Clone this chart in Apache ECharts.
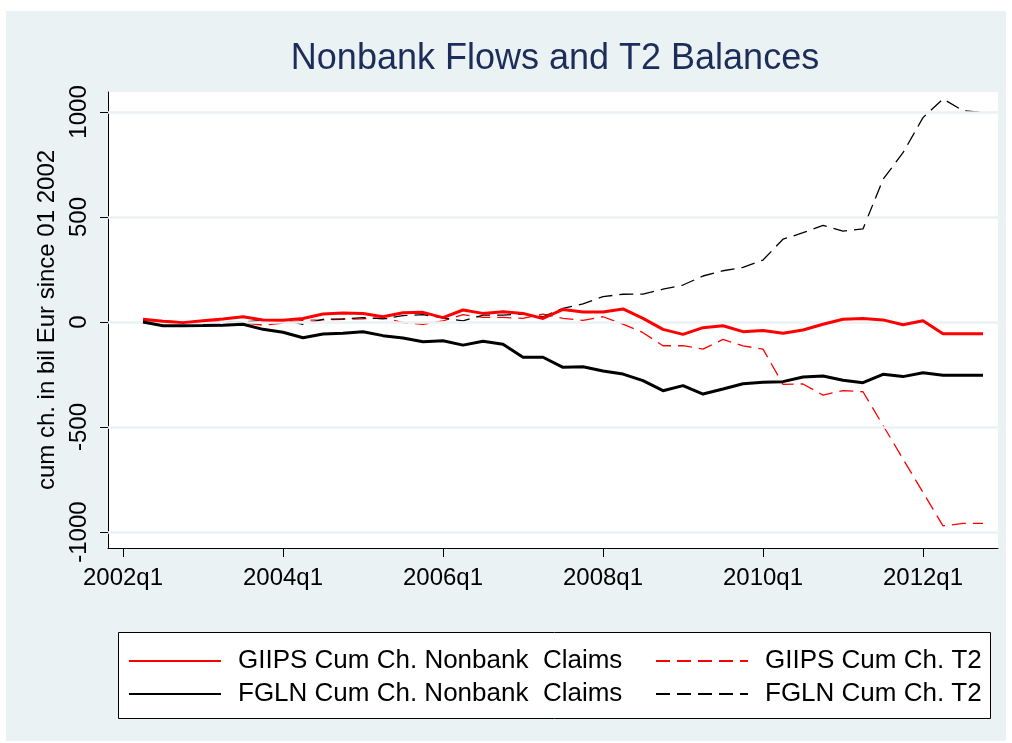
<!DOCTYPE html>
<html>
<head>
<meta charset="utf-8">
<script src="https://cdn.jsdelivr.net/npm/echarts@6/dist/echarts.min.js"></script>
<style>html,body{margin:0;padding:0;background:#fff}#c{width:1012px;height:743px}</style>
</head>
<body>
<div id="c"></div>
<script>
const quarters = ['2002q2','2002q3','2002q4','2003q1','2003q2','2003q3','2003q4','2004q1','2004q2','2004q3','2004q4',
  '2005q1','2005q2','2005q3','2005q4','2006q1','2006q2','2006q3','2006q4','2007q1','2007q2','2007q3','2007q4',
  '2008q1','2008q2','2008q3','2008q4','2009q1','2009q2','2009q3','2009q4','2010q1','2010q2','2010q3','2010q4',
  '2011q1','2011q2','2011q3','2011q4','2012q1','2012q2','2012q3','2012q4'];
const giipsNonbank = [13,3,-3,6,14,25,10,8,17,38,43,40,25,44,46,21,57,41,49,41,17,60,48,48,62,17,-35,-59,-27,-18,-46,-41,-54,-38,-11,13,17,10,-13,6,-56,-56,-56];
const giipsT2 = [10,5,0,2,0,-3,-15,-5,8,10,13,15,20,-3,-11,5,35,22,22,17,38,17,8,25,-10,-51,-113,-113,-129,-83,-114,-129,-297,-295,-348,-327,-332,-492,-652,-811,-971,-959,-959];
const fglnNonbank = [0,-18,-18,-17,-15,-11,-35,-49,-75,-57,-54,-46,-65,-76,-94,-89,-110,-92,-106,-168,-168,-216,-213,-233,-248,-279,-327,-303,-343,-319,-294,-287,-284,-262,-257,-277,-289,-249,-260,-242,-253,-253,-253];
const fglnT2 = [5,3,0,-3,-5,0,8,10,-11,13,15,21,15,30,35,20,5,33,33,37,25,65,86,121,132,133,156,176,219,244,260,295,394,425,460,433,443,679,806,973,1062,1006,998];
const xTickLabels = ['2002q1','2004q1','2006q1','2008q1','2010q1','2012q1'];
const yTicks = [-1000,-500,0,500,1000];
const seriesNames = ['GIIPS Cum Ch. Nonbank  Claims','GIIPS Cum Ch. T2','FGLN Cum Ch. Nonbank  Claims','FGLN Cum Ch. T2'];

function qIndex(q){ const y = parseInt(q.slice(0,4),10), n = parseInt(q.slice(5),10); return (y-2002)*4 + (n-1); }
const xTickVals = xTickLabels.map(qIndex);
function pairs(arr){ return arr.map((v,i)=>[qIndex(quarters[i]), v]); }

const FONT = "'Liberation Sans', Arial, Helvetica, sans-serif";
const chart = echarts.init(document.getElementById('c'), null, {renderer:'canvas'});
const dash = [14,7];
const legendBase = {
  orient:'horizontal', itemWidth:92, itemHeight:14, padding:0, itemGap:0,
  itemStyle:{color:'rgba(0,0,0,0)', borderWidth:0, opacity:0},
  textStyle:{fontFamily:FONT, fontSize:26, color:'#000', padding:[0,0,0,12]},
  selectedMode:false
};
const option = {
  backgroundColor:'#eaf2f3',
  animation:false,
  graphic:[
    {type:'rect', shape:{x:0,y:0,width:1012,height:11}, style:{fill:'#fff'}, silent:true},
    {type:'rect', shape:{x:0,y:0,width:6,height:743}, style:{fill:'#fff'}, silent:true},
    {type:'rect', shape:{x:1006,y:0,width:6,height:743}, style:{fill:'#fff'}, silent:true},
    {type:'rect', shape:{x:0,y:741,width:1012,height:2}, style:{fill:'#fff'}, silent:true},
    {type:'rect', shape:{x:118.5,y:632.5,width:872,height:86}, style:{fill:'#fff', stroke:'#000', lineWidth:1}, silent:true, z:-1},
    {type:'text', x:555, y:59, silent:true, style:{text:'Nonbank Flows and T2 Balances', font:"36px 'Liberation Sans', Arial, sans-serif", fill:'#1c2d5a', align:'center', verticalAlign:'middle'}}
  ],
  grid:{left:108, top:92, right:14, bottom:195, show:true, backgroundColor:'#fff', borderWidth:0},
  xAxis:{
    type:'value', min:-0.75, max:43.75,
    axisLine:{show:true, onZero:false, lineStyle:{color:'#000', width:1}},
    axisTick:{show:true, length:9, lineStyle:{color:'#000'}, customValues:xTickVals},
    axisLabel:{customValues:xTickVals, fontFamily:FONT, fontSize:24, color:'#000', margin:18,
      formatter:function(v){ const k = xTickVals.indexOf(Math.round(v)); return k>=0 ? xTickLabels[k] : ''; }},
    splitLine:{show:false}
  },
  yAxis:{
    type:'value', min:-1076, max:1095,
    name:'cum ch. in bil Eur since 01 2002', nameLocation:'middle', nameGap:40, nameRotate:90,
    nameTextStyle:{fontFamily:FONT, fontSize:24, color:'#000'},
    axisLine:{show:true, onZero:false, lineStyle:{color:'#000', width:1}},
    axisTick:{show:true, length:8, lineStyle:{color:'#000'}, customValues:yTicks},
    axisLabel:{customValues:yTicks, rotate:90, fontFamily:FONT, fontSize:24, color:'#000', margin:17,
      formatter:function(v){ return String(v); }},
    splitLine:{show:false}
  },
  legend:[
    Object.assign({}, legendBase, {data:[seriesNames[0]], left:128, top:648}),
    Object.assign({}, legendBase, {data:[seriesNames[1]], left:655, top:648}),
    Object.assign({}, legendBase, {data:[seriesNames[2]], left:128, top:681}),
    Object.assign({}, legendBase, {data:[seriesNames[3]], left:655, top:681})
  ],
  series:[
    {type:'line', name:'grid', data:[], z:1, silent:true,
      markLine:{silent:true, symbol:'none', label:{show:false}, animation:false,
        lineStyle:{color:'#eaf2f3', width:2.5, type:'solid'},
        data:yTicks.map(v=>({yAxis:v}))}},
    {type:'line', name:seriesNames[0], data:pairs(giipsNonbank), symbol:'none', z:5,
      lineStyle:{color:'#ff0000', width:3}, itemStyle:{color:'#ff0000'}},
    {type:'line', name:seriesNames[1], data:pairs(giipsT2), symbol:'none', z:4,
      lineStyle:{color:'#ff0000', width:1.3, type:dash}, itemStyle:{color:'#ff0000'}},
    {type:'line', name:seriesNames[2], data:pairs(fglnNonbank), symbol:'none', z:5,
      lineStyle:{color:'#000', width:3}, itemStyle:{color:'#000'}},
    {type:'line', name:seriesNames[3], data:pairs(fglnT2), symbol:'none', z:4,
      lineStyle:{color:'#000', width:1.3, type:dash}, itemStyle:{color:'#000'}}
  ]
};
chart.setOption(option);
</script>
</body>
</html>
